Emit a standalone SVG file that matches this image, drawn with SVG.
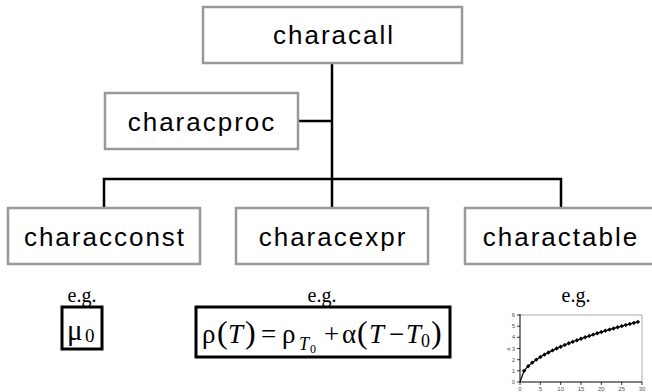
<svg xmlns="http://www.w3.org/2000/svg" width="652" height="392" viewBox="0 0 652 392">
<style>
.box{fill:#fff;stroke:#999;stroke-width:2.5}
.lbl{font-family:"Liberation Sans",Arial,sans-serif;font-size:26px;letter-spacing:2px;text-anchor:middle;fill:#000}
.conn{fill:none;stroke:#000;stroke-width:2.5}
.eg{font-family:"Liberation Serif","Times New Roman",serif;font-size:20px;text-anchor:middle;fill:#000}
.ex{fill:none;stroke:#000;stroke-width:3}
.m{font-family:"Liberation Serif","Times New Roman",serif;fill:#000}
.it{font-style:italic}
.tick{font-family:"Liberation Sans",Arial,sans-serif;font-size:6px;fill:#555}
</style>
<defs>
<marker id="dot" markerUnits="userSpaceOnUse" markerWidth="5" markerHeight="5" refX="2.5" refY="2.5" viewBox="0 0 5 5">
<path d="M2.5 0.3L4.7 2.5L2.5 4.7L0.3 2.5Z" fill="#000"/>
</marker>
</defs>
<rect width="652" height="392" fill="#fff"/>
<g id="connectors">
<path class="conn" d="M332 63V208M298 121H332M104 208V179H561V208"/>
</g>
<g id="characall">
<rect class="box" x="203" y="7" width="259" height="56"/>
<text class="lbl" x="334" y="44">characall</text>
</g>
<g id="characproc">
<rect class="box" x="105" y="93" width="193" height="56"/>
<text class="lbl" x="202" y="131">characproc</text>
</g>
<g id="characconst">
<rect class="box" x="8" y="208" width="192" height="56"/>
<text class="lbl" x="105" y="246">characconst</text>
</g>
<g id="characexpr">
<rect class="box" x="236" y="208" width="192" height="56"/>
<text class="lbl" x="333" y="246">characexpr</text>
</g>
<g id="charactable">
<rect class="box" x="465" y="208" width="210" height="56"/>
<text class="lbl" x="561" y="246">charactable</text>
</g>
<g id="example-const">
<text class="eg" x="82" y="302">e.g.</text>
<rect class="ex" x="62" y="307" width="40" height="42"/>
<text class="m" x="67" y="340" font-size="29">μ</text>
<text class="m" x="85" y="342" font-size="19">0</text>
</g>
<g id="example-expr">
<text class="eg" x="322" y="302">e.g.</text>
<rect class="ex" x="196" y="307" width="254" height="50"/>
<text class="m" font-size="27" y="343"><tspan x="202">ρ</tspan><tspan x="217" font-size="32">(</tspan><tspan x="228" class="it">T</tspan><tspan x="245" font-size="32">)</tspan><tspan x="261">=</tspan><tspan x="282">ρ</tspan><tspan x="324">+</tspan><tspan x="342">α</tspan><tspan x="357" font-size="32">(</tspan><tspan x="369" class="it">T</tspan><tspan x="389">−</tspan><tspan x="406" class="it">T</tspan><tspan x="431" font-size="32">)</tspan></text>
<text class="m it" x="299" y="350" font-size="18">T</text>
<text class="m" x="310" y="353" font-size="12">0</text>
<text class="m" x="421" y="347" font-size="18">0</text>
</g>
<g id="example-table">
<text class="eg" x="576" y="302">e.g.</text>
<path d="M520 315H642V382" fill="none" stroke="#aaa" stroke-width="1"/>
<path d="M520 314V382H642" fill="none" stroke="#000" stroke-width="1"/>
<path d="M517 382H520M517 370.8H520M517 359.7H520M517 348.5H520M517 337.3H520M517 326.2H520M517 315H520M520 382V385M540.3 382V385M560.7 382V385M581 382V385M601.3 382V385M621.7 382V385M642 382V385" stroke="#000" stroke-width="0.8"/>
<g class="tick" text-anchor="end">
<text x="515" y="384">0</text><text x="515" y="372.8">1</text><text x="515" y="361.7">2</text><text x="515" y="350.5">3</text><text x="515" y="339.3">4</text><text x="515" y="328.2">5</text><text x="515" y="317">6</text>
</g>
<g class="tick" text-anchor="middle">
<text x="520" y="391">0</text><text x="540.3" y="391">5</text><text x="560.7" y="391">10</text><text x="581" y="391">15</text><text x="601.3" y="391">20</text><text x="621.7" y="391">25</text><text x="642" y="391">30</text>
</g>
<text class="tick" x="0" y="0" transform="translate(510,349) rotate(-90)" text-anchor="middle" font-size="5">a</text>
<polyline fill="none" stroke="#000" stroke-width="1.2" marker-mid="url(#dot)" marker-end="url(#dot)" points="520,382 524.07,370.83 528.13,366.2 532.2,362.65 536.27,359.66 540.33,357.02 544.4,354.64 548.47,352.45 552.53,350.41 556.6,348.49 560.67,346.68 564.73,344.95 568.8,343.31 572.87,341.73 576.93,340.21 581,338.74 585.07,337.32 589.13,335.95 593.2,334.61 597.27,333.31 601.33,332.05 605.4,330.81 609.47,329.61 613.53,328.43 617.6,327.28 621.67,326.15 625.73,325.04 629.8,323.96 633.87,322.89 637.93,321.85"/>
</g>
</svg>
